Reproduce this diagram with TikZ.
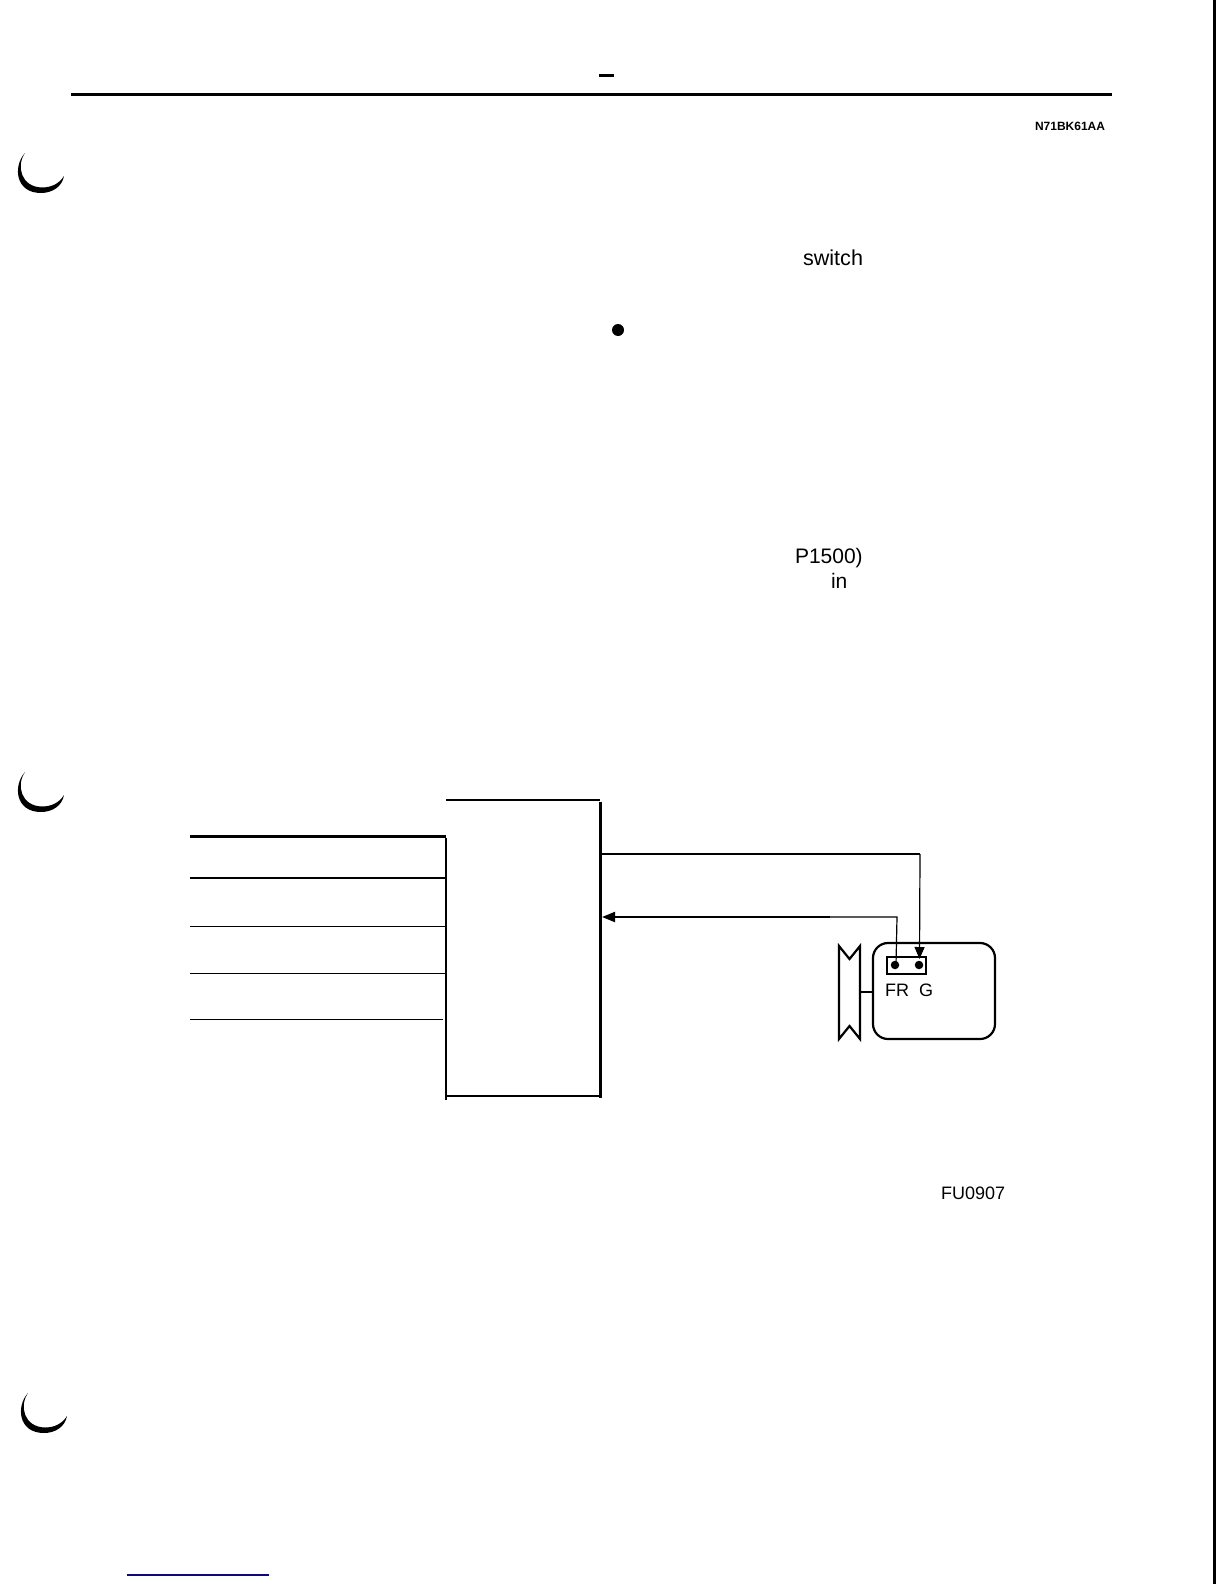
\documentclass[tikz,border=0pt]{standalone}
\usepackage{fontspec}
\setmainfont{Liberation Sans}
\usetikzlibrary{arrows.meta}
\tikzset{
  wire/.style={draw=black,line width=#1,line cap=butt},
  wire/.default=1.2pt,
  label/.style={inner sep=0pt,outer sep=0pt,anchor=base west,text=black},
  crescent/.pic={\fill[black] (25,153) .. controls (13,166) and (15,193) .. (41,193)
     .. controls (52,193) and (62,187) .. (64,176)
     .. controls (59,184) and (51,187.5) .. (42,187.5)
     .. controls (21,187) and (16,166) .. (25,153) -- cycle;},
  headL/.style={-{Triangle[length=12pt,width=10pt]}},
}
\begin{document}
\begin{tikzpicture}[x=1pt,y=-1pt]
\useasboundingbox (0,0) rectangle (1224,1584);
\fill[white] (0,0) rectangle (1224,1584);
% page furniture
\draw[wire=3pt] (71,95) -- (1112,95);
\draw[wire=3pt] (599,75.5) -- (614,75.5);
\draw[wire=3.5pt] (1214.5,0) -- (1214.5,1584);
\draw[wire=1.2pt,draw={rgb,255:red,10;green,10;blue,120}] (127,1575) -- (269,1575);
\pic at (0,0) {crescent};
\pic at (0,619) {crescent};
\pic at (3,1240) {crescent};
\fill[black] (618,330) circle (6);
% texts
\node[label,font=\fontsize{12}{12}\selectfont\bfseries] (code) at (1035,131) {N71BK61AA};
\node[label,font=\fontsize{21.6}{22}\selectfont] (sw) at (803,265) {switch};
\node[label,font=\fontsize{21}{22}\selectfont] (p) at (795,563) {P1500)};
\node[label,font=\fontsize{21}{22}\selectfont] (in) at (831,588) {in};
\node[label,font=\fontsize{18}{18}\selectfont] (fu) at (941,1199) {FU0907};
\node[label,font=\fontsize{18}{18}\selectfont] (fr) at (885,996.5) {FR};
\node[label,font=\fontsize{18}{18}\selectfont] (g) at (919,996.5) {G};
% control box
\coordinate (tl) at (446,800);
\coordinate (tr) at (600,800);
\coordinate (rt) at (600.7,802);
\coordinate (rb) at (600.7,1097.5);
\coordinate (lt) at (445.7,838);
\coordinate (lb) at (445.7,1100);
\coordinate (bl) at (446,1096);
\coordinate (br) at (600,1096);
\draw[wire=2.4pt] (tl) -- (tr);
\draw[wire=3pt] (rt) -- (rb);
\draw[wire=2pt] (lt) -- (lb);
\draw[wire=2.2pt] (bl) -- (br);
% input lines
\coordinate (i1) at (190,836); \coordinate (j1) at (446,836);
\coordinate (i2) at (190,878); \coordinate (j2) at (445,878);
\coordinate (i3) at (190,926); \coordinate (j3) at (445,926);
\coordinate (i4) at (190,973); \coordinate (j4) at (445,973);
\coordinate (i5) at (190,1019.5); \coordinate (j5) at (443,1019.5);
\draw[wire=3pt] (i1) -- (j1);
\draw[wire=2pt] (i2) -- (j2);
\draw[wire=1pt] (i3) -- (j3);
\draw[wire=1pt] (i4) -- (j4);
\draw[wire=1pt] (i5) -- (j5);
% connector
\node[draw=black,line width=1.5pt,rectangle,inner sep=0pt,minimum width=39pt,minimum height=17pt] (conn) at (906.5,965.5) {};
\node[circle,fill=black,inner sep=0pt,minimum size=8.5pt] (dfr) at (895,965) {};
\node[circle,fill=black,inner sep=0pt,minimum size=8.5pt] (dg) at (919,965) {};
% signal wires
\coordinate (a0) at (602,854);
\coordinate (a1) at (830,854);
\coordinate (a2) at (920,854);
\coordinate (a3) at (919.5,959);
\draw[wire=2pt] (a0) -- (a1);
\draw[wire=1.2pt] (a1) -- (a2);
\draw[wire=1.2pt,headL] (a2) -- (a3);
\coordinate (b0) at (896,965);
\coordinate (b1) at (897,917);
\coordinate (b2) at (830,917);
\coordinate (b3) at (602,917);
\draw[wire=1.2pt] (b0) -- (b1) -- (b2);
\draw[wire=2pt,-{Triangle[length=13pt,width=10pt]}] (b2) -- (b3);
% alternator body and pulley
\draw[line width=2.2pt,rounded corners=15pt] (873,943) rectangle (995,1039);
\draw[line width=2.2pt,line join=miter] (839,946) -- (849.5,959) -- (860,946) -- (860,1039) -- (849.5,1026) -- (839,1039) -- cycle;
\coordinate (ax0) at (860,992);
\coordinate (ax1) at (873,992);
\draw[wire=2pt] (ax0) -- (ax1);
\end{tikzpicture}
\end{document}
